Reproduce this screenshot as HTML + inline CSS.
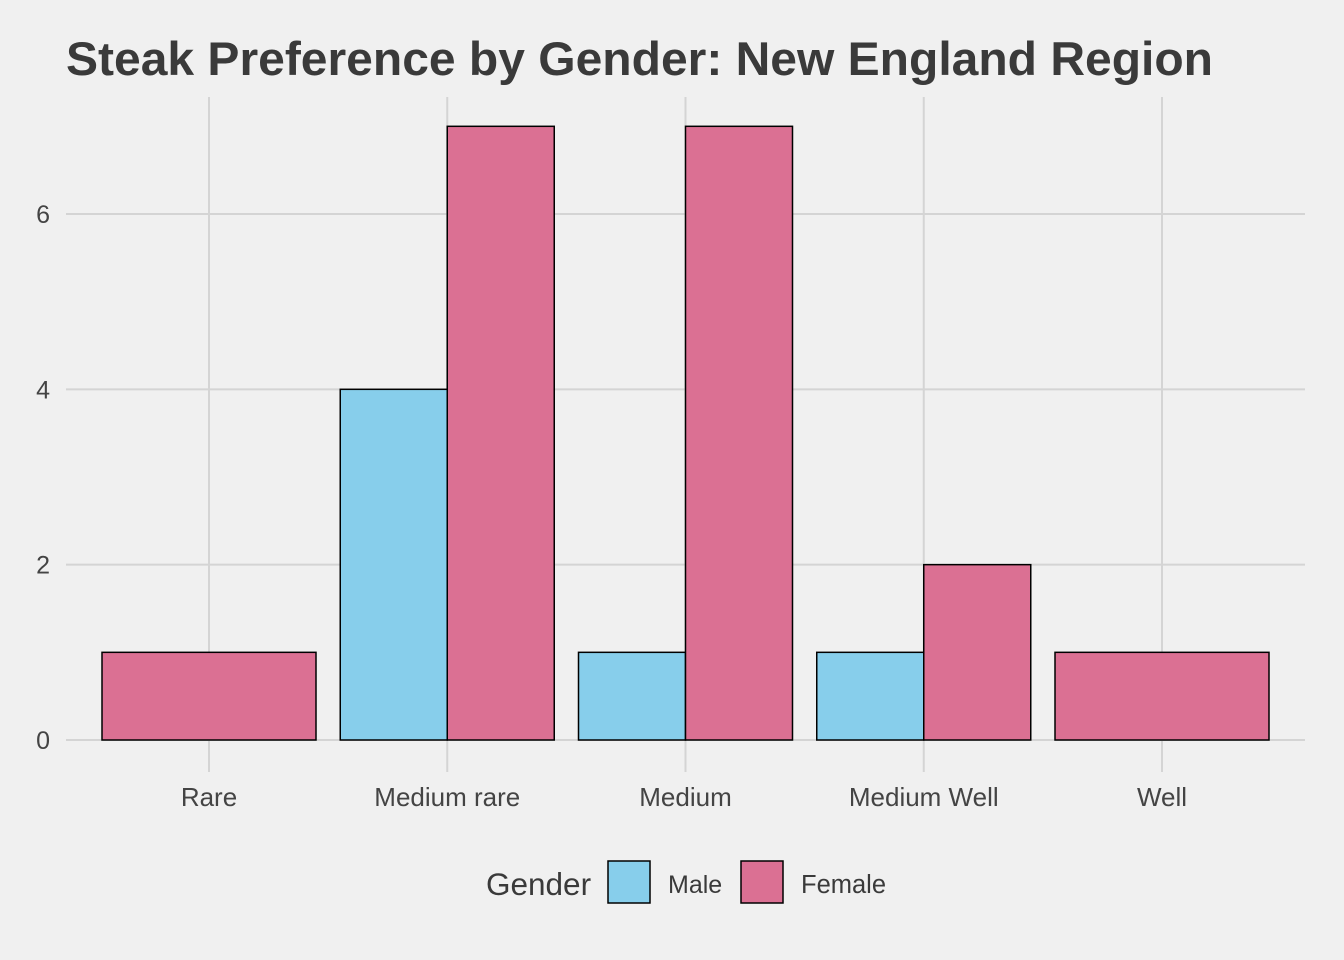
<!DOCTYPE html>
<html><head><meta charset="utf-8"><style>
html,body{margin:0;padding:0;background:#f0f0f0;}
svg{display:block;font-family:"Liberation Sans",Arial,sans-serif;}
</style></head><body>
<svg id="chart" width="1344" height="960" viewBox="0 0 1344 960">
<rect width="1344" height="960" fill="#f0f0f0"/>
<text x="66" y="75" font-size="47" font-weight="bold" fill="#3a3a3a" textLength="1147" lengthAdjust="spacingAndGlyphs">Steak Preference by Gender: New England Region</text>
<g id="grid"></g><g id="bars"></g><g id="axes"></g>
<g>
<text x="486" y="895" font-size="31.5" fill="#3a3a3a">Gender</text>
<rect x="608" y="861" width="42" height="42" fill="#87ceeb" stroke="#000" stroke-width="1.5"/>
<text x="668" y="893" font-size="25" fill="#3a3a3a">Male</text>
<rect x="741" y="861" width="42" height="42" fill="#db7093" stroke="#000" stroke-width="1.5"/>
<text x="801" y="893" font-size="25.5" fill="#3a3a3a">Female</text>
</g>
</svg>
<script>
const categories=["Rare","Medium rare","Medium","Medium Well","Well"];
const maleValues=[null,4,1,1,null];
const femaleValues=[1,7,7,2,1];
const yTicks=[0,2,4,6];
const NS="http://www.w3.org/2000/svg";
const x0=209,step=238.25,bw=214,yBase=740,ppu=87.67;
const xc=i=>x0+i*step;
const y=v=>yBase-v*ppu;
function mk(t,a,p){const e=document.createElementNS(NS,t);for(const k in a)e.setAttribute(k,a[k]);p.appendChild(e);return e;}
const grid=document.getElementById('grid'),bars=document.getElementById('bars'),axes=document.getElementById('axes');
yTicks.forEach(v=>{
 const l=mk('line',{x1:66,x2:1305,y1:y(v),y2:y(v),stroke:'#d4d4d4','stroke-width':2},grid);
 
 
 const t=mk('text',{x:50,y:y(v)+9,'font-size':25,fill:'#444','text-anchor':'end'},axes);
 t.textContent=v;
 
 
});
categories.forEach((c,i)=>{
 const l=mk('line',{x1:xc(i),x2:xc(i),y1:97,y2:772,stroke:'#d4d4d4','stroke-width':2},grid);
 
 
 const t=mk('text',{x:xc(i),y:806,'font-size':26,fill:'#444','text-anchor':'middle'},axes);
 t.textContent=c;
 
 
 const m=maleValues[i],f=femaleValues[i];
 const both=m!=null&&f!=null;
 if(m!=null){
  const w=both?bw/2:bw,x=xc(i)-bw/2;
  const r=mk('rect',{x:x,y:y(m),width:w,height:yBase-y(m),fill:'#87ceeb',stroke:'#000','stroke-width':1.5},bars);
  
  
 }
 if(f!=null){
  const w=both?bw/2:bw,x=both?xc(i):xc(i)-bw/2;
  const r=mk('rect',{x:x,y:y(f),width:w,height:yBase-y(f),fill:'#db7093',stroke:'#000','stroke-width':1.5},bars);
  
  
 }
});
</script>
</body></html>
